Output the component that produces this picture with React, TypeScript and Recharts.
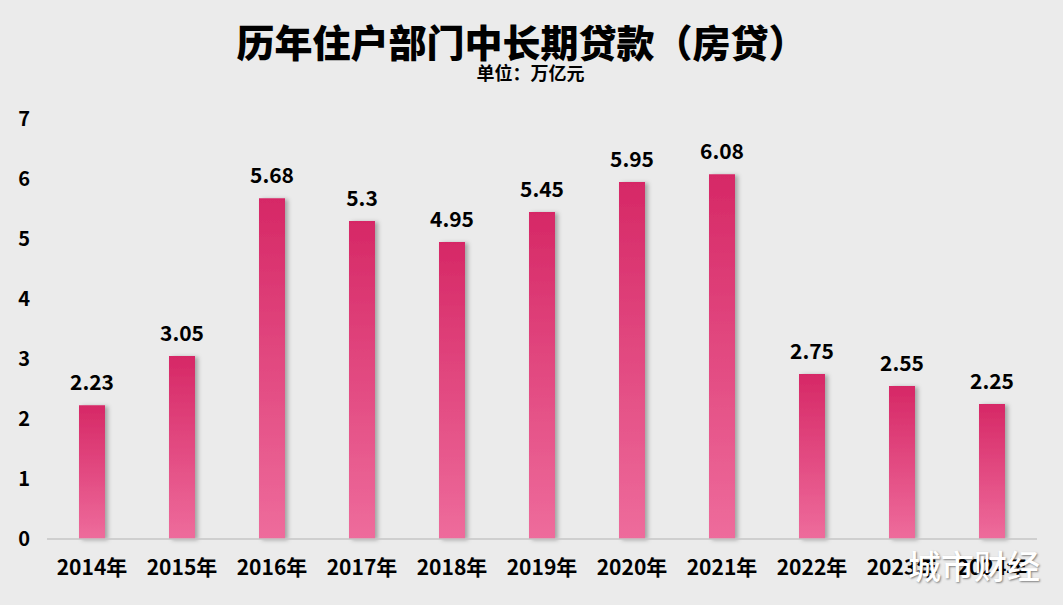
import React from "react";
import { BarChart, Bar, XAxis, YAxis, LabelList } from "recharts";

const categories = ["2014年", "2015年", "2016年", "2017年", "2018年", "2019年", "2020年", "2021年", "2022年", "2023年", "2024年"];
const loans = [2.23, 3.05, 5.68, 5.3, 4.95, 5.45, 5.95, 6.08, 2.75, 2.55, 2.25];
const yTicks = [0, 1, 2, 3, 4, 5, 6, 7];

const data = categories.map((c, i) => ({ year: c, value: loans[i] }));

const FONT = "'Noto Sans CJK SC', 'Liberation Sans', sans-serif";

export default function App() {
  return (
    <div style={{ position: "absolute", left: 0, top: 0, width: 1063, height: 605, background: "#ebebeb", fontFamily: FONT, overflow: "hidden" }}>
      <div style={{ position: "absolute", left: 0, width: 1043, top: 21, textAlign: "center", fontSize: 38, fontWeight: 900, lineHeight: "40px", color: "#000" }}>
        历年住户部门中长期贷款（房贷）
      </div>
      <div style={{ position: "absolute", left: 0, width: 1061, top: 63, textAlign: "center", fontSize: 18, fontWeight: 700, lineHeight: "19px", color: "#000" }}>
        单位：万亿元
      </div>
      <BarChart width={1063} height={605} data={data} margin={{ top: 119, right: 26, bottom: 36, left: 0 }} barCategoryGap={32}>
        <defs>
          <linearGradient id="barGrad" x1="0" y1="0" x2="0" y2="1">
            <stop offset="0%" stopColor="#d62866" />
            <stop offset="100%" stopColor="#ee6c9c" />
          </linearGradient>
          <filter id="barShadow" x="-30%" y="-10%" width="160%" height="120%">
            <feDropShadow dx="3" dy="1" stdDeviation="2" floodColor="#000" floodOpacity="0.3" />
          </filter>
        </defs>
        <XAxis
          dataKey="year"
          axisLine={{ stroke: "#c6c6c6", strokeWidth: 1.5 }}
          tickLine={false}
          height={30}
          tickMargin={15}
          interval={0}
          tick={{ fill: "#000", fontSize: 21, fontWeight: 700, fontFamily: FONT }}
        />
        <YAxis
          domain={[0, 7]}
          ticks={yTicks}
          width={47}
          axisLine={false}
          tickLine={false}
          tickMargin={11}
          tick={{ fill: "#000", fontSize: 20, fontWeight: 700, fontFamily: FONT }}
        />
        <Bar dataKey="value" fill="url(#barGrad)" filter="url(#barShadow)" barSize={26} isAnimationActive={false}>
          <LabelList dataKey="value" position="top" offset={15} style={{ fill: "#000", fontSize: 21, fontWeight: 700, fontFamily: FONT }} />
        </Bar>
      </BarChart>
      <div style={{ position: "absolute", left: 908, top: 543, fontSize: 33, fontWeight: 500, color: "#fff", lineHeight: "44px", textShadow: "1px 1px 2px rgba(0,0,0,0.45)" }}>
        城市财经
      </div>
    </div>
  );
}
